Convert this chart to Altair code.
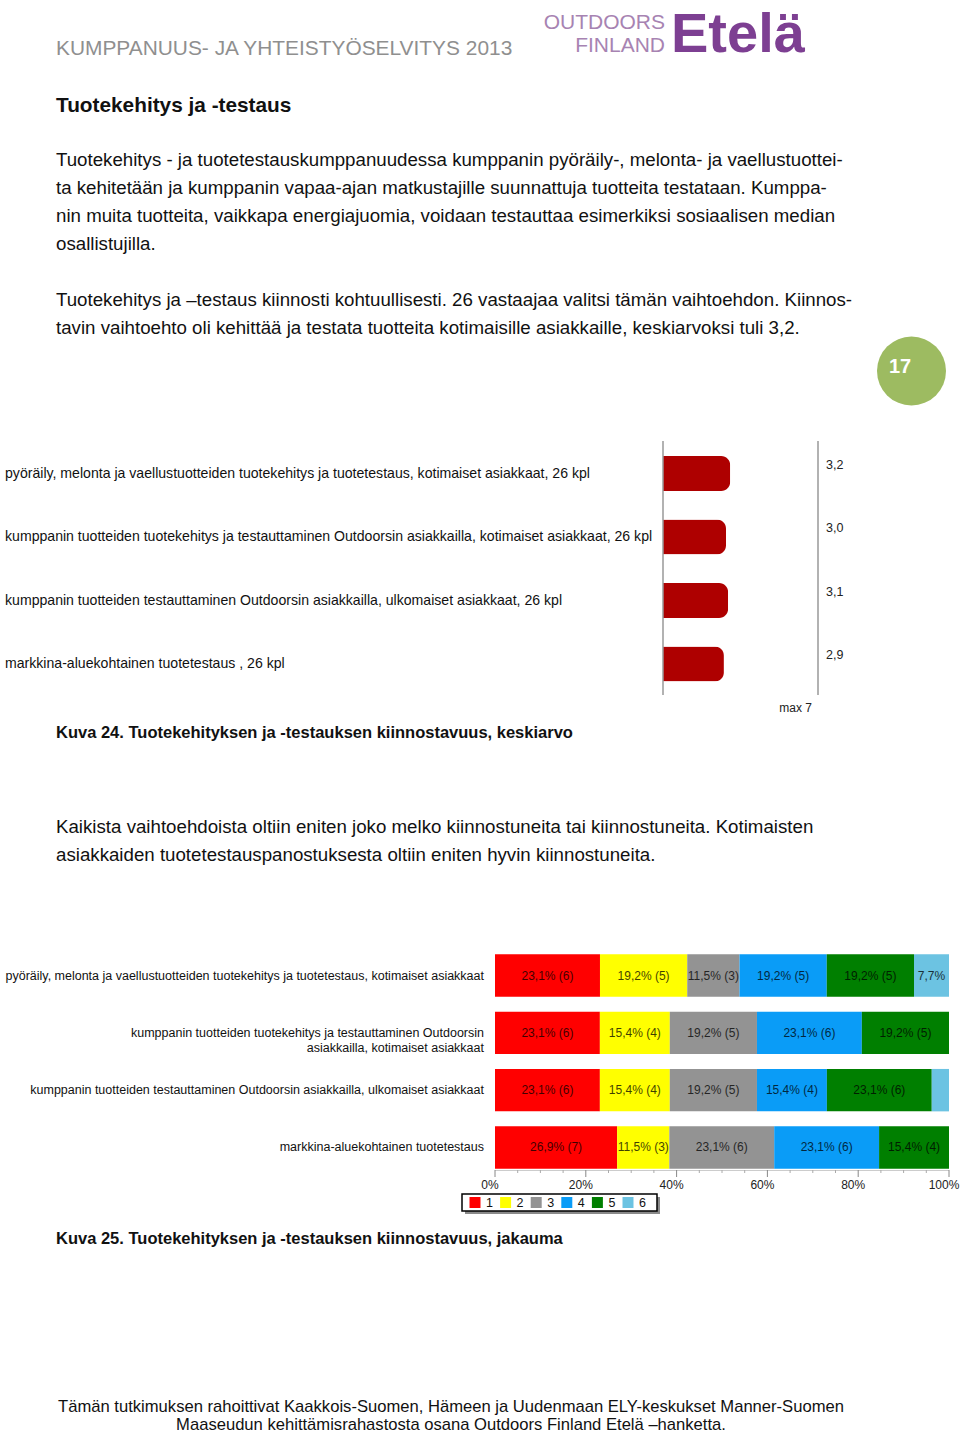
import altair as alt
import pandas as pd

# ---------------- data ----------------
c1_labels = [
    "pyöräily, melonta ja vaellustuotteiden tuotekehitys ja tuotetestaus, kotimaiset asiakkaat, 26 kpl",
    "kumppanin tuotteiden tuotekehitys ja testauttaminen Outdoorsin asiakkailla, kotimaiset asiakkaat, 26 kpl",
    "kumppanin tuotteiden testauttaminen Outdoorsin asiakkailla, ulkomaiset asiakkaat, 26 kpl",
    "markkina-aluekohtainen tuotetestaus , 26 kpl",
]
c1_values = [3.2, 3.0, 3.1, 2.9]
c1_value_labels = ["3,2", "3,0", "3,1", "2,9"]

c2_rows = ["r1", "r2", "r3", "r4"]
c2_row_labels = [
    "pyöräily, melonta ja vaellustuotteiden tuotekehitys ja tuotetestaus, kotimaiset asiakkaat",
    "kumppanin tuotteiden tuotekehitys ja testauttaminen Outdoorsin\nasiakkailla, kotimaiset asiakkaat",
    "kumppanin tuotteiden testauttaminen Outdoorsin asiakkailla, ulkomaiset asiakkaat",
    "markkina-aluekohtainen tuotetestaus",
]
c2_cats = ["1", "2", "3", "4", "5", "6"]
c2_colors = ["#ff0000", "#ffff00", "#939393", "#0a9cf7", "#007f00", "#6cc3e2"]
c2_pct = [
    [23.1, 19.2, 11.5, 19.2, 19.2, 7.7],
    [23.1, 15.4, 19.2, 23.1, 19.2, 0.0],
    [23.1, 15.4, 19.2, 15.4, 23.1, 3.8],
    [26.9, 11.5, 23.1, 23.1, 15.4, 0.0],
]
c2_n = [
    [6, 5, 3, 5, 5, 2],
    [6, 4, 5, 6, 5, 0],
    [6, 4, 5, 4, 6, 1],
    [7, 3, 6, 6, 4, 0],
]
c2_major_ticks = [0, 0.2, 0.4, 0.6, 0.8, 1.0]
c2_tick_labels = ["0%", "20%", "40%", "60%", "80%", "100%"]
c2_minor_ticks = [0.05, 0.1, 0.15, 0.25, 0.3, 0.35, 0.45, 0.5, 0.55,
                  0.65, 0.7, 0.75, 0.85, 0.9, 0.95]

SANS = "Liberation Sans, Arial, sans-serif"
one = pd.DataFrame({"k": [0]})


def txt(text, x, y, size, font=SANS, bold=False, color="#111111",
        align="left", baseline="alphabetic", line_height=None):
    kw = {}
    if line_height is not None:
        kw["lineHeight"] = line_height
    return alt.Chart(pd.DataFrame({"t": [text]})).mark_text(
        font=font, fontSize=size, fontWeight="bold" if bold else "normal",
        color=color, align=align, baseline=baseline, lineBreak="\n", **kw
    ).encode(x=alt.value(x), y=alt.value(y), text="t:N")


def rect(x, x2, y, y2, color, stroke=None, sw=0):
    kw = {}
    if stroke:
        kw["stroke"] = stroke
        kw["strokeWidth"] = sw
    return alt.Chart(one).mark_rect(color=color, **kw).encode(
        x=alt.value(x), x2=alt.value(x2), y=alt.value(y), y2=alt.value(y2))


def vline(x, y, y2, color="#999999", w=1.5):
    return alt.Chart(one).mark_rule(color=color, strokeWidth=w).encode(
        x=alt.value(x), y=alt.value(y), y2=alt.value(y2))


layers = []

# ---------------- header ----------------
layers.append(txt("KUMPPANUUS- JA YHTEISTYÖSELVITYS 2013", 56, 55, 20.9, color="#8f8f8f"))
layers.append(txt("OUTDOORS", 665, 29, 21, color="#a783b2", align="right"))
layers.append(txt("FINLAND", 665, 52, 21, color="#a783b2", align="right"))
layers.append(txt("Etelä", 671, 52, 56, bold=True, color="#7d3f92"))

# ---------------- body text ----------------
layers.append(txt("Tuotekehitys ja -testaus", 56, 112, 20.8, bold=True))
layers.append(txt(
    "Tuotekehitys - ja tuotetestauskumppanuudessa kumppanin pyöräily-, melonta- ja vaellustuottei-\n"
    "ta kehitetään ja kumppanin vapaa-ajan matkustajille suunnattuja tuotteita testataan. Kumppa-\n"
    "nin muita tuotteita, vaikkapa energiajuomia, voidaan testauttaa esimerkiksi sosiaalisen median\n"
    "osallistujilla.", 56, 166, 18.7, line_height=28))
layers.append(txt(
    "Tuotekehitys ja –testaus kiinnosti kohtuullisesti. 26 vastaajaa valitsi tämän vaihtoehdon. Kiinnos-\n"
    "tavin vaihtoehto oli kehittää ja testata tuotteita kotimaisille asiakkaille, keskiarvoksi tuli 3,2.",
    56, 306, 18.7, line_height=28))

# page number badge
layers.append(alt.Chart(one).mark_circle(size=4761, opacity=1, color="#9dbb61").encode(
    x=alt.value(911.5), y=alt.value(371)))
layers.append(txt("17", 900, 367, 20, bold=True, color="white",
                  align="center", baseline="middle"))

# ---------------- chart 1 ----------------
df1 = pd.DataFrame({"lab": c1_labels, "v": c1_values, "vl": c1_value_labels})
x1 = alt.Scale(domain=[0, 7], range=[663, 810])
y1 = alt.Scale(domain=c1_labels, range=[441.75, 695.75], paddingInner=0.45, paddingOuter=0.225)

layers.append(alt.Chart(df1).mark_bar(color="#ae0000", cornerRadiusEnd=9).encode(
    x=alt.X("v:Q", scale=x1, axis=None),
    y=alt.Y("lab:N", scale=y1, axis=None, sort=None)))
layers.append(alt.Chart(df1).mark_text(font=SANS, fontSize=14.1, align="left",
                                       baseline="middle", color="#111111").encode(
    x=alt.value(5), y=alt.Y("lab:N", scale=y1, axis=None, sort=None), text="lab:N"))
layers.append(alt.Chart(df1).mark_text(font=SANS, fontSize=12.5, align="left",
                                       baseline="middle", color="#222222", dy=-9).encode(
    x=alt.value(826), y=alt.Y("lab:N", scale=y1, axis=None, sort=None), text="vl:N"))
layers.append(vline(663, 441, 695))
layers.append(vline(818, 441, 695))
layers.append(txt("max   7", 812, 712, 12, color="#222222", align="right"))

layers.append(txt("Kuva 24. Tuotekehityksen ja -testauksen kiinnostavuus, keskiarvo", 56, 738, 16.5, bold=True))

layers.append(txt(
    "Kaikista vaihtoehdoista oltiin eniten joko melko kiinnostuneita tai kiinnostuneita. Kotimaisten\n"
    "asiakkaiden tuotetestauspanostuksesta oltiin eniten hyvin kiinnostuneita.",
    56, 833, 18.7, line_height=28))

# ---------------- chart 2 ----------------
recs = []
for r, lab, pcts, ns in zip(c2_rows, c2_row_labels, c2_pct, c2_n):
    for c, p, n in zip(c2_cats, pcts, ns):
        s = f"{p:.1f}".replace(".", ",") + "%"
        if p >= 10:
            s += f" ({n})"
        elif p < 5:
            s = ""
        recs.append({"row": r, "cat": c, "pct": p, "seg": s})
df2 = pd.DataFrame(recs)
dfrows = pd.DataFrame({"row": c2_rows, "rl": c2_row_labels})

x2 = alt.Scale(domain=[0, 1], range=[495, 949])
y2 = alt.Scale(domain=c2_rows, range=[946.85, 1176.15], paddingInner=0.26, paddingOuter=0.13)
col2 = alt.Scale(domain=c2_cats, range=c2_colors)

stacked = alt.Chart(df2).transform_stack(
    stack="pct", groupby=["row"], sort=[alt.SortField("cat")], as_=["x0", "x1"], offset="normalize"
).transform_calculate(mid="(datum.x0 + datum.x1) / 2")

layers.append(stacked.mark_bar().encode(
    x=alt.X("x0:Q", scale=x2, axis=None), x2="x1:Q",
    y=alt.Y("row:N", scale=y2, axis=None, sort=None),
    color=alt.Color("cat:N", scale=col2, legend=None)))
layers.append(stacked.mark_text(font=SANS, fontSize=12, align="center", baseline="middle",
                                color="black", opacity=0.75).encode(
    x=alt.X("mid:Q", scale=x2, axis=None),
    y=alt.Y("row:N", scale=y2, axis=None, sort=None), text="seg:N"))
layers.append(alt.Chart(dfrows).mark_text(font=SANS, fontSize=12.5, align="right", baseline="middle",
                                          color="#111111", lineBreak="\n", lineHeight=15).encode(
    x=alt.value(484), y=alt.Y("row:N", scale=y2, axis=None, sort=None), text="rl:N"))

# axis ticks
layers.append(alt.Chart(one).mark_rule(color="#cccccc", strokeWidth=1).encode(
    x=alt.value(495), x2=alt.value(949), y=alt.value(1170.5)))
dfmaj = pd.DataFrame({"t": c2_major_ticks, "tl": c2_tick_labels})
dfmin = pd.DataFrame({"t": c2_minor_ticks})
layers.append(alt.Chart(dfmaj).mark_rule(color="#888888", strokeWidth=1).encode(
    x=alt.X("t:Q", scale=x2, axis=None), y=alt.value(1170), y2=alt.value(1177)))
layers.append(alt.Chart(dfmin).mark_rule(color="#aaaaaa", strokeWidth=1).encode(
    x=alt.X("t:Q", scale=x2, axis=None), y=alt.value(1170), y2=alt.value(1173)))
layers.append(alt.Chart(dfmaj).mark_text(font=SANS, fontSize=12, align="center", baseline="middle",
                                         color="#222222", dx=-5).encode(
    x=alt.X("t:Q", scale=x2, axis=None), y=alt.value(1185), text="tl:N"))

# legend (manual)
layers.append(rect(465, 660, 1197, 1214, "#8a8a8a"))
layers.append(rect(462, 657, 1194, 1211, "white", stroke="black", sw=1.5))
dfleg = pd.DataFrame({"cat": c2_cats})
xl = alt.Scale(type="point", domain=c2_cats, range=[475, 628], padding=0)
layers.append(alt.Chart(dfleg).mark_square(size=121, opacity=1).encode(
    x=alt.X("cat:N", scale=xl, axis=None), y=alt.value(1202.5),
    color=alt.Color("cat:N", scale=col2, legend=None)))
layers.append(alt.Chart(dfleg).mark_text(font=SANS, fontSize=12.5, align="left", baseline="middle",
                                         color="#111111", dx=11).encode(
    x=alt.X("cat:N", scale=xl, axis=None), y=alt.value(1203), text="cat:N"))

layers.append(txt("Kuva 25. Tuotekehityksen ja -testauksen kiinnostavuus, jakauma", 56, 1244, 16.5, bold=True))

# footer
layers.append(txt("Tämän tutkimuksen rahoittivat  Kaakkois-Suomen, Hämeen ja Uudenmaan ELY-keskukset  Manner-Suomen",
                  451, 1412, 16.6, align="center"))
layers.append(txt("Maaseudun kehittämisrahastosta osana Outdoors Finland Etelä –hanketta.",
                  451, 1429.5, 16.6, align="center"))

chart = alt.layer(*layers).resolve_scale(
    x="independent", y="independent", color="independent"
).properties(
    width=960, height=1433, padding=0,
    autosize=alt.AutoSizeParams(type="none"),
    background="white",
).configure_view(strokeWidth=0)

chart.save("out.html", embed_options={"renderer": "svg", "actions": False})
